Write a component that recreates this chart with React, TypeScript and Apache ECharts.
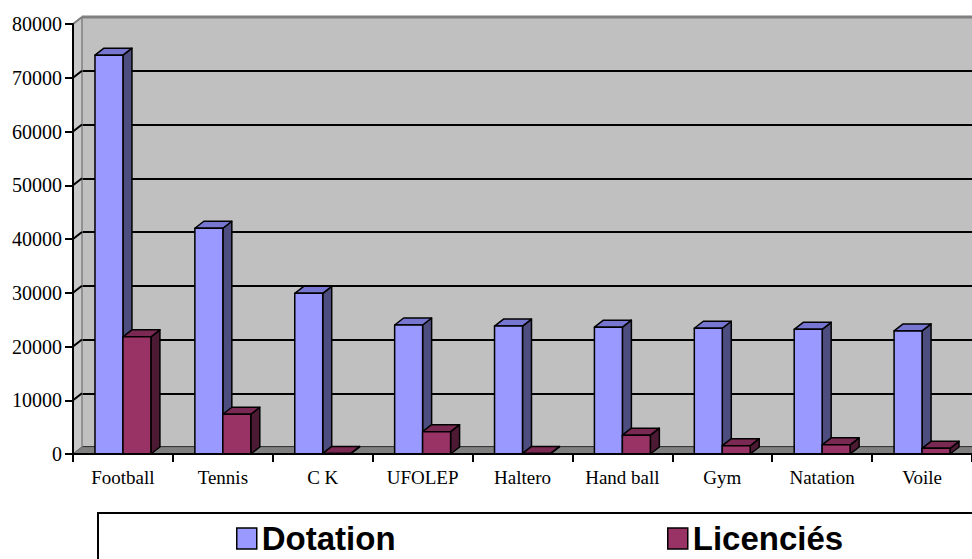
import React, { useEffect, useRef } from "react";
import * as echarts from "echarts";

const categories = ["Football", "Tennis", "C K", "UFOLEP", "Haltero", "Hand ball", "Gym", "Natation", "Voile"];
const dotation = [74200, 42000, 29900, 24000, 23800, 23600, 23400, 23200, 22900];
const licencies = [21800, 7400, 100, 4150, 100, 3500, 1550, 1700, 1060];
const seriesNames = ["Dotation", "Licenciés"];
const yTicks = [0, 10000, 20000, 30000, 40000, 50000, 60000, 70000, 80000];

const GL = 73, GT = 24, GW = 900, GH = 430;
const DX = 9, DY = -7;
const YMAX = 80000;
const SERIF = '"Times New Roman", "Liberation Serif", serif';
const SANS = 'Arial, "Liberation Sans", sans-serif';

const faces = [
  { front: "#9999ff", top: "#7777d2", side: "#4d4d80" },
  { front: "#993366", top: "#7a2952", side: "#4d1a33" },
];

function makeRender(si: number) {
  return (params: any, api: any) => {
    const i = api.value(0);
    const v = api.value(1);
    const top = api.coord([i, v]);
    const base = api.coord([i, 0]);
    const bw = api.size([1, 0])[0] * 0.28;
    const x0 = si === 0 ? top[0] - bw : top[0];
    const yT = top[1];
    const yB = base[1];
    const f = faces[si];
    const stroke = { stroke: "#000", lineWidth: 1.5, lineJoin: "round" };
    return {
      type: "group",
      children: [
        {
          type: "polygon",
          shape: { points: [[x0 + bw, yT], [x0 + bw + DX, yT + DY], [x0 + bw + DX, yB + DY], [x0 + bw, yB]] },
          style: { fill: f.side, ...stroke },
        },
        {
          type: "polygon",
          shape: { points: [[x0, yT], [x0 + DX, yT + DY], [x0 + bw + DX, yT + DY], [x0 + bw, yT]] },
          style: { fill: f.top, ...stroke },
        },
        {
          type: "rect",
          shape: { x: x0, y: yT, width: bw, height: yB - yT },
          style: { fill: f.front, ...stroke },
        },
      ],
    };
  };
}

const legendText = { color: "#000", fontFamily: SANS, fontSize: 33, fontWeight: "bold", lineHeight: 32 };

export default function App() {
  const ref = useRef<HTMLDivElement>(null);
  useEffect(() => {
    document.body.style.margin = "0";
    const chart = echarts.init(ref.current!, null, { renderer: "svg" });
    const yPix = (v: number) => GT + GH * (1 - v / YMAX);
    const sideGrid = yTicks.slice(1, -1).map((v) => ({
      type: "line",
      z: 1,
      shape: { x1: GL, y1: yPix(v), x2: GL + DX, y2: yPix(v) + DY },
      style: { stroke: "#000", lineWidth: 2 },
    }));
    chart.setOption({
      animation: false,
      grid: [
        { left: GL, top: GT, width: GW, height: GH, show: false },
        { left: GL + DX, top: GT + DY, width: GW, height: GH, show: true, backgroundColor: "#c0c0c0", borderWidth: 0 },
      ],
      xAxis: [
        {
          type: "category",
          gridIndex: 0,
          data: categories,
          axisLine: { lineStyle: { color: "#000", width: 2 } },
          axisTick: { show: true, length: 8, lineStyle: { color: "#000", width: 2 } },
          axisLabel: { color: "#000", fontFamily: SERIF, fontSize: 19, margin: 14, interval: 0 },
          z: 5,
        },
        { type: "category", gridIndex: 1, data: categories, show: false },
      ],
      yAxis: [
        {
          type: "value",
          gridIndex: 0,
          min: 0,
          max: YMAX,
          interval: 10000,
          axisLine: { show: true, lineStyle: { color: "#000", width: 2 } },
          axisTick: { show: true, length: 8, lineStyle: { color: "#000", width: 2 } },
          axisLabel: { color: "#000", fontFamily: SERIF, fontSize: 20, margin: 11, formatter: (v: number) => String(v) },
          splitLine: { show: false },
          z: 5,
        },
        {
          type: "value",
          gridIndex: 1,
          min: 0,
          max: YMAX,
          interval: 10000,
          axisLine: { show: false },
          axisTick: { show: false },
          axisLabel: { show: false },
          splitLine: { show: true, lineStyle: { color: "#000", width: 2 } },
        },
      ],
      legend: [
        {
          data: [seriesNames[0]],
          left: 236,
          top: 522,
          padding: 0,
          icon: "rect",
          itemWidth: 20,
          itemHeight: 21,
          itemStyle: { borderColor: "#000", borderWidth: 1.5 },
          textStyle: legendText,
          selectedMode: false,
        },
        {
          data: [seriesNames[1]],
          left: 667,
          top: 522,
          padding: 0,
          icon: "rect",
          itemWidth: 20,
          itemHeight: 21,
          itemStyle: { borderColor: "#000", borderWidth: 1.5 },
          textStyle: legendText,
          selectedMode: false,
        },
      ],
      graphic: [
        {
          type: "polygon",
          z: 1,
          shape: { points: [[GL, GT], [GL + DX, GT + DY], [GL + DX, GT + GH + DY], [GL, GT + GH]] },
          style: { fill: "#c8c8c8", stroke: "#808080", lineWidth: 1.5 },
        },
        ...sideGrid,
        {
          type: "polygon",
          z: 1,
          shape: { points: [[GL, GT + GH], [GL + DX, GT + GH + DY], [GL + GW + DX, GT + GH + DY], [GL + GW, GT + GH]] },
          style: { fill: "#808080", stroke: "#6e6e6e", lineWidth: 1 },
        },
        {
          type: "line",
          z: 1,
          shape: { x1: GL + DX, y1: GT + DY, x2: GL + GW + DX, y2: GT + DY },
          style: { stroke: "#808080", lineWidth: 3 },
        },
        {
          type: "line",
          z: 1,
          shape: { x1: GL, y1: GT, x2: GL + DX, y2: GT + DY },
          style: { stroke: "#808080", lineWidth: 2 },
        },
        {
          type: "rect",
          z: 0,
          shape: { x: 98, y: 513, width: 900, height: 100 },
          style: { fill: "#fff", stroke: "#000", lineWidth: 2 },
        },
      ],
      series: [
        {
          name: seriesNames[0],
          type: "custom",
          xAxisIndex: 0,
          yAxisIndex: 0,
          itemStyle: { color: faces[0].front },
          encode: { x: 0, y: 1 },
          data: dotation.map((v, i) => [i, v]),
          renderItem: makeRender(0),
          z: 3,
        },
        {
          name: seriesNames[1],
          type: "custom",
          xAxisIndex: 0,
          yAxisIndex: 0,
          itemStyle: { color: faces[1].front },
          encode: { x: 0, y: 1 },
          data: licencies.map((v, i) => [i, v]),
          renderItem: makeRender(1),
          z: 4,
        },
      ],
    });
    return () => chart.dispose();
  }, []);
  return <div ref={ref} style={{ width: 972, height: 559 }} />;
}
